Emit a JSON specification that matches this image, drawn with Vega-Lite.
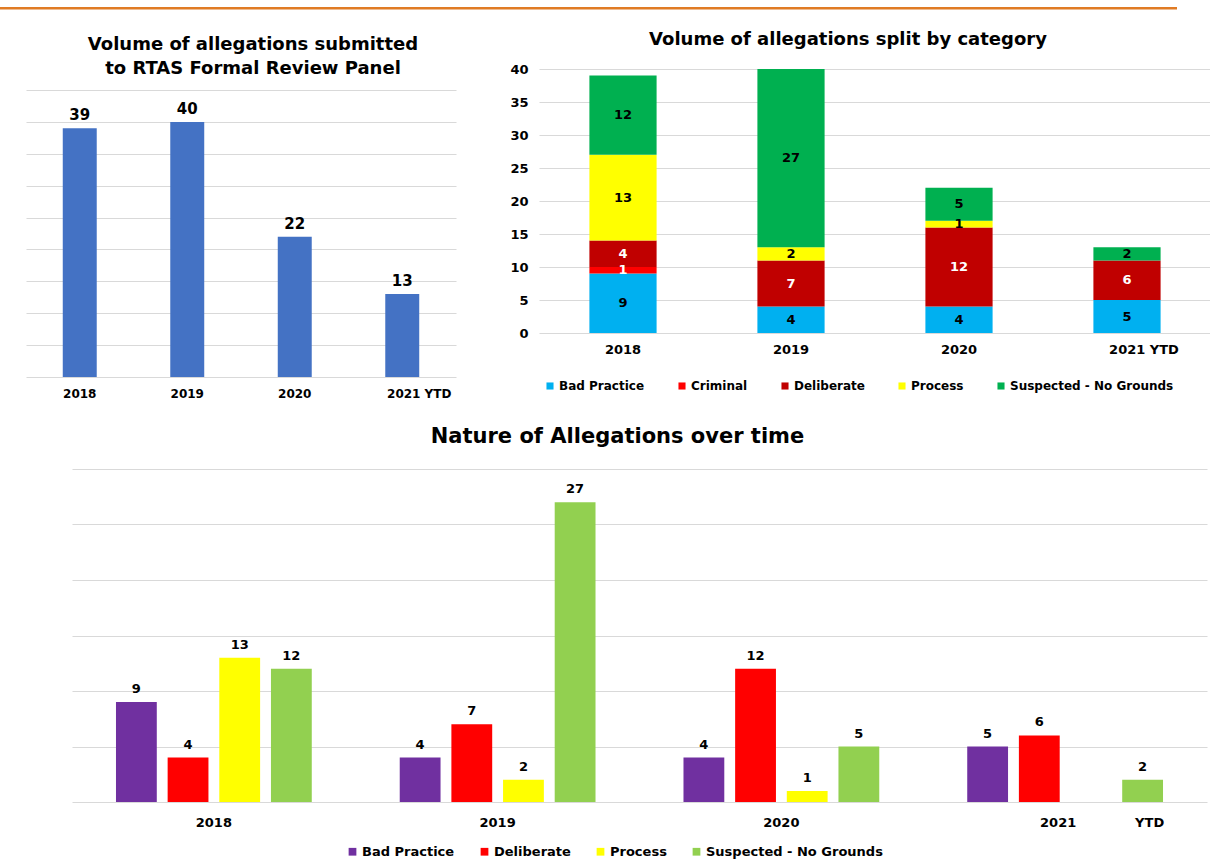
{
  "$schema": "https://vega.github.io/schema/vega-lite/v6.json",
  "padding": {"top": 7, "left": 0, "right": 0, "bottom": 0},
  "background": "white",
  "config": {
    "font": "DejaVu Sans",
    "view": {"stroke": null},
    "axis": {"labelFont": "DejaVu Sans", "labelFontWeight": "bold", "labelColor": "black", "gridColor": "#D9D9D9", "gridWidth": 1, "domain": false, "ticks": false},
    "title": {"font": "DejaVu Sans", "fontWeight": "bold", "color": "black"},
    "legend": {"labelFont": "DejaVu Sans", "labelFontWeight": "bold", "labelColor": "black", "symbolType": "square", "symbolStrokeWidth": 0, "labelLimit": 0}
  },
  "datasets": {
    "totals": [
      {"year": "2018", "count": 39},
      {"year": "2019", "count": 40},
      {"year": "2020", "count": 22},
      {"year": "2021 YTD", "count": 13}
    ],
    "split": [
      {"year": "2018", "category": "Bad Practice", "count": 9},
      {"year": "2018", "category": "Criminal", "count": 1},
      {"year": "2018", "category": "Deliberate", "count": 4},
      {"year": "2018", "category": "Process", "count": 13},
      {"year": "2018", "category": "Suspected - No Grounds", "count": 12},
      {"year": "2019", "category": "Bad Practice", "count": 4},
      {"year": "2019", "category": "Deliberate", "count": 7},
      {"year": "2019", "category": "Process", "count": 2},
      {"year": "2019", "category": "Suspected - No Grounds", "count": 27},
      {"year": "2020", "category": "Bad Practice", "count": 4},
      {"year": "2020", "category": "Deliberate", "count": 12},
      {"year": "2020", "category": "Process", "count": 1},
      {"year": "2020", "category": "Suspected - No Grounds", "count": 5},
      {"year": "2021 YTD", "category": "Bad Practice", "count": 5},
      {"year": "2021 YTD", "category": "Deliberate", "count": 6},
      {"year": "2021 YTD", "category": "Suspected - No Grounds", "count": 2}
    ],
    "nature": [
      {"year": "2018", "category": "Bad Practice", "count": 9},
      {"year": "2018", "category": "Deliberate", "count": 4},
      {"year": "2018", "category": "Process", "count": 13},
      {"year": "2018", "category": "Suspected - No Grounds", "count": 12},
      {"year": "2019", "category": "Bad Practice", "count": 4},
      {"year": "2019", "category": "Deliberate", "count": 7},
      {"year": "2019", "category": "Process", "count": 2},
      {"year": "2019", "category": "Suspected - No Grounds", "count": 27},
      {"year": "2020", "category": "Bad Practice", "count": 4},
      {"year": "2020", "category": "Deliberate", "count": 12},
      {"year": "2020", "category": "Process", "count": 1},
      {"year": "2020", "category": "Suspected - No Grounds", "count": 5},
      {"year": "2021 YTD", "category": "Bad Practice", "count": 5},
      {"year": "2021 YTD", "category": "Deliberate", "count": 6},
      {"year": "2021 YTD", "category": "Suspected - No Grounds", "count": 2}
    ]
  },
  "spacing": 21,
  "resolve": {"scale": {"color": "independent", "x": "independent", "y": "independent"}},
  "vconcat": [
    {
      "width": 1175,
      "height": 0.5,
      "view": {"stroke": "#E07B24", "strokeWidth": 2},
      "data": {"values": []},
      "mark": "point",
      "encoding": {}
    },
    {
      "spacing": 27,
      "resolve": {"scale": {"color": "independent", "x": "independent", "y": "independent"}},
      "vconcat": [
        {
          "spacing": 24,
          "resolve": {"scale": {"color": "independent", "x": "independent", "y": "independent"}},
          "hconcat": [
            {
              "width": 1,
              "height": 1,
              "data": {"values": []},
              "mark": "point",
              "encoding": {}
            },
            {
              "width": 430,
              "height": 308,
              "title": {"text": ["Volume of allegations submitted", "to RTAS Formal Review Panel"], "fontSize": 18, "lineHeight": 24, "offset": -9, "dx": 12},
              "data": {"name": "totals"},
              "encoding": {
                "x": {"field": "year", "type": "nominal", "sort": null, "title": null,
                  "scale": {"paddingInner": 0.684, "paddingOuter": 0.342},
                  "axis": {"labelAngle": 0, "labelFontSize": 12, "labelPadding": 11, "grid": false,
                    "labelOffset": {"condition": {"test": "datum.value == '2021 YTD'", "value": 17}, "value": 0}}},
                "y": {"field": "count", "type": "quantitative", "title": null,
                  "scale": {"domain": [0, 48.31], "nice": false},
                  "axis": {"values": [0, 5, 10, 15, 20, 25, 30, 35, 40, 45], "labels": false, "grid": true}}
              },
              "layer": [
                {"mark": {"type": "bar", "color": "#4472C4"}},
                {"mark": {"type": "text", "baseline": "bottom", "dy": -5, "fontSize": 15, "fontWeight": "bold", "color": "black"},
                  "encoding": {"text": {"field": "count", "type": "quantitative"}}}
              ]
            },
            {
              "width": 672,
              "height": 264,
              "title": {"text": "Volume of allegations split by category", "fontSize": 18, "offset": 14, "dx": -27},
              "data": {"name": "split"},
              "encoding": {
                "x": {"field": "year", "type": "nominal", "sort": null, "title": null,
                  "scale": {"paddingInner": 0.6, "paddingOuter": 0.3},
                  "axis": {"labelAngle": 0, "labelFontSize": 13, "labelPadding": 10, "grid": false,
                    "labelOffset": {"condition": {"test": "datum.value == '2021 YTD'", "value": 17}, "value": 0}}},
                "y": {"field": "count", "type": "quantitative", "stack": "zero", "title": null,
                  "scale": {"domain": [0, 40], "nice": false},
                  "axis": {"values": [0, 5, 10, 15, 20, 25, 30, 35, 40], "grid": true, "labelFontSize": 13, "labelPadding": 11, "minExtent": 59, "maxExtent": 59}},
                "order": {"field": "category", "sort": "ascending"}
              },
              "layer": [
                {"mark": {"type": "bar"},
                  "encoding": {
                    "color": {"field": "category", "type": "nominal",
                      "scale": {"domain": ["Bad Practice", "Criminal", "Deliberate", "Process", "Suspected - No Grounds"],
                        "range": ["#00B0F0", "#FF0000", "#C00000", "#FFFF00", "#00B050"]},
                      "legend": {"title": null, "orient": "none", "direction": "horizontal", "columns": 5, "legendX": 5, "legendY": 311,
                        "labelFontSize": 12, "columnPadding": 31, "symbolSize": 50, "labelOffset": 3, "labelLimit": 0}}
                  }},
                {"mark": {"type": "text", "fontSize": 13, "fontWeight": "bold"},
                  "encoding": {
                    "detail": {"field": "category", "type": "nominal"},
                    "y": {"field": "count", "type": "quantitative", "stack": "zero", "bandPosition": 0.5},
                    "text": {"field": "count", "type": "quantitative"},
                    "color": {"condition": {"test": "datum.category == 'Criminal' || datum.category == 'Deliberate'", "value": "white"}, "value": "black"}
                  }}
              ]
            }
          ]
        },
        {
          "spacing": 70,
          "resolve": {"scale": {"color": "independent", "x": "independent", "y": "independent"}},
          "hconcat": [
            {
              "width": 1,
              "height": 1,
              "data": {"values": []},
              "mark": "point",
              "encoding": {}
            },
            {
              "width": 1135,
              "height": 333,
              "title": {"text": "Nature of Allegations over time", "fontSize": 21, "offset": 22, "dx": -22},
              "data": {"name": "nature"},
              "encoding": {
                "x": {"field": "year", "type": "nominal", "sort": null, "title": null,
                  "scale": {"paddingInner": 0.31, "paddingOuter": 0.155},
                  "axis": {"labelAngle": 0, "labelFontSize": 13, "labelPadding": 14, "grid": false,
                    "labelExpr": "datum.value == '2021 YTD' ? '2021\u00a0\u00a0\u00a0\u00a0\u00a0\u00a0\u00a0\u00a0\u00a0\u00a0\u00a0\u00a0\u00a0YTD' : datum.value",
                    "labelOffset": {"condition": {"test": "datum.value == '2021 YTD'", "value": 37}, "value": 0}}},
                "xOffset": {"field": "category", "type": "nominal", "sort": ["Bad Practice", "Deliberate", "Process", "Suspected - No Grounds"],
                  "scale": {"paddingInner": 0.21, "paddingOuter": 0}},
                "y": {"field": "count", "type": "quantitative", "title": null,
                  "scale": {"domain": [0, 30], "nice": false},
                  "axis": {"values": [0, 5, 10, 15, 20, 25, 30], "labels": false, "grid": true}}
              },
              "layer": [
                {"mark": {"type": "bar"},
                  "encoding": {
                    "color": {"field": "category", "type": "nominal",
                      "scale": {"domain": ["Bad Practice", "Deliberate", "Process", "Suspected - No Grounds"],
                        "range": ["#7030A0", "#FF0000", "#FFFF00", "#92D050"]},
                      "legend": {"title": null, "orient": "none", "direction": "horizontal", "columns": 4, "legendX": 274, "legendY": 376,
                        "labelFontSize": 13, "columnPadding": 23, "symbolSize": 60, "labelOffset": 3, "labelLimit": 0}}
                  }},
                {"mark": {"type": "text", "baseline": "bottom", "dy": -6, "fontSize": 13, "fontWeight": "bold", "color": "black"},
                  "encoding": {"text": {"field": "count", "type": "quantitative"}}}
              ]
            }
          ]
        }
      ]
    }
  ]
}
